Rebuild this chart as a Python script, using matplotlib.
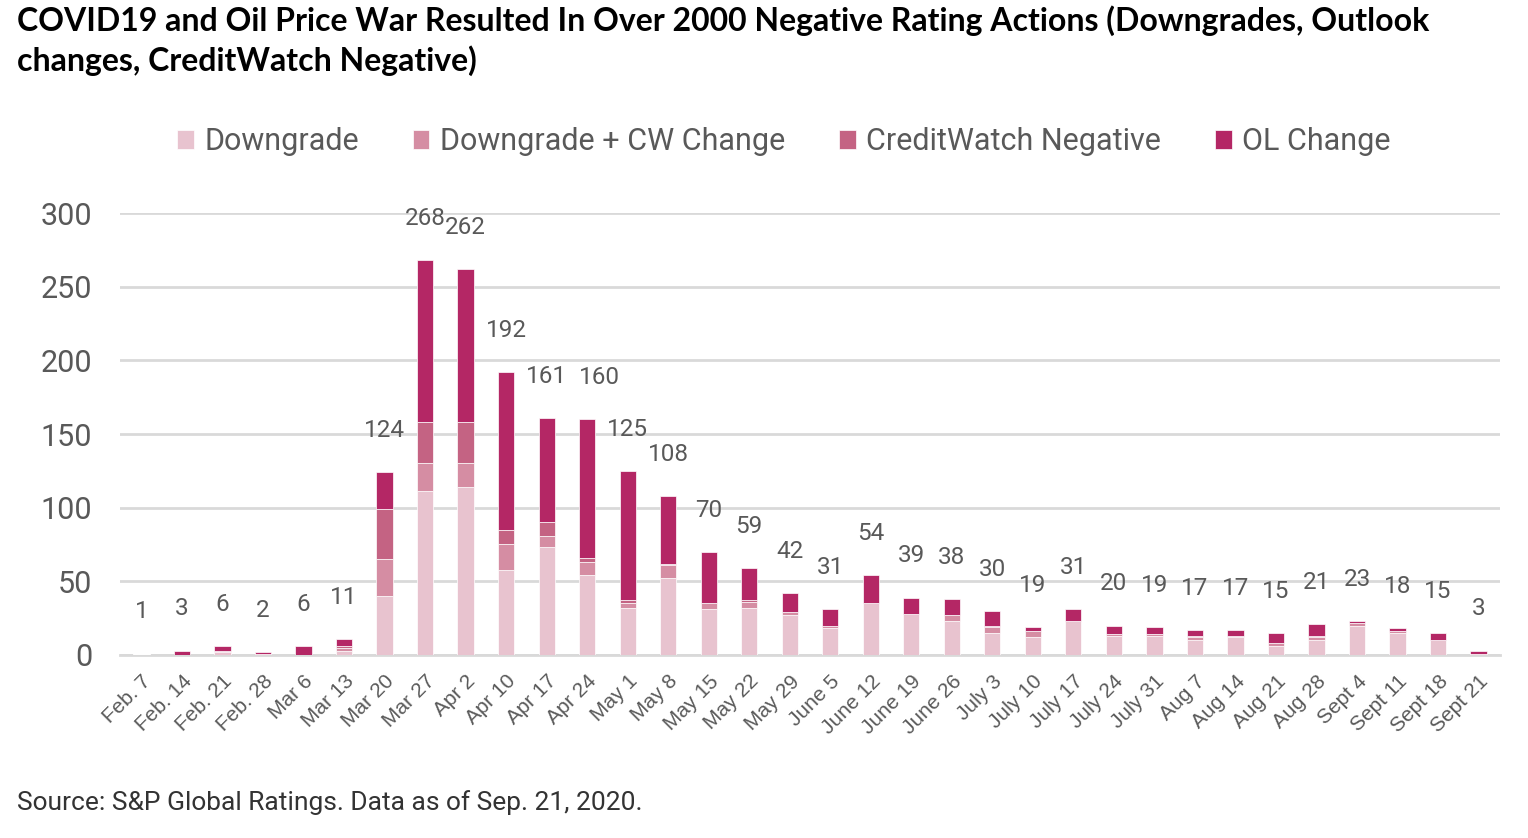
import numpy as np
import matplotlib.pyplot as plt

weeks = ["Feb. 7", "Feb. 14", "Feb. 21", "Feb. 28", "Mar 6", "Mar 13", "Mar 20", "Mar 27",
         "Apr 2", "Apr 10", "Apr 17", "Apr 24", "May 1", "May 8", "May 15", "May 22",
         "May 29", "June 5", "June 12", "June 19", "June 26", "July 3", "July 10", "July 17",
         "July 24", "July 31", "Aug 7", "Aug 14", "Aug 21", "Aug 28", "Sept 4", "Sept 11",
         "Sept 18", "Sept 21"]

downgrade    = [1, 0, 2, 1, 0, 3, 40, 111, 114, 58, 73, 54, 32, 52, 31, 32, 27, 18, 35, 28,
                23, 15, 12, 23, 13, 13, 10, 12, 6, 10, 20, 15, 10, 1]
downgrade_cw = [0, 0, 1, 0, 0, 2, 25, 19, 16, 17, 8, 9, 3, 9, 4, 4, 2, 2, 0, 0,
                4, 4, 4, 0, 1, 1, 2, 1, 2, 2, 2, 1, 0, 0]
cw_negative  = [0, 0, 0, 0, 0, 1, 34, 28, 28, 10, 9, 3, 2, 1, 0, 1, 0, 0, 0, 0,
                0, 1, 0, 0, 0, 0, 1, 0, 0, 1, 0, 0, 0, 0]
ol_change    = [0, 3, 3, 1, 6, 5, 25, 110, 104, 107, 71, 94, 88, 46, 35, 22, 13, 11, 19, 11,
                11, 10, 3, 8, 6, 5, 4, 4, 7, 8, 1, 2, 5, 2]
totals = [1, 3, 6, 2, 6, 11, 124, 268, 262, 192, 161, 160, 125, 108, 70, 59, 42, 31, 54, 39,
          38, 30, 19, 31, 20, 19, 17, 17, 15, 21, 23, 18, 15, 3]

n = len(weeks)
x = np.arange(n)

series = [("Downgrade", downgrade, "#E8C3CF"),
          ("Downgrade + CW Change", downgrade_cw, "#D58DA3"),
          ("CreditWatch Negative", cw_negative, "#C46383"),
          ("OL Change", ol_change, "#B42765")]

plt.rcParams['font.family'] = ['Roboto', 'DejaVu Sans']
fig = plt.figure(figsize=(15.28, 8.38), dpi=100)
ax = fig.add_axes([0.0785, 0.2184, 0.9032, 0.5274])

bottom = np.zeros(n)
for name, vals, col in series:
    ax.bar(x, vals, 0.4, bottom=bottom, color=col, label=name,
           edgecolor='white', linewidth=0.5, zorder=3)
    bottom += np.array(vals)

for i, (xi, t) in enumerate(zip(x, totals)):
    dx = 9 if weeks[i] == "Apr 24" else 0  # label nudged right in the original
    ax.annotate(str(t), (xi, t), xytext=(dx, 30), textcoords='offset points',
                ha='center', va='center', fontsize=17.5, color='#595959')

ax.set_ylim(0, 300)
ax.set_xlim(-0.53, n - 0.47)
ax.set_yticks(range(0, 301, 50))
ax.yaxis.grid(True, color='#D9D9D9', linewidth=2, zorder=0)
ax.tick_params(axis='y', length=0, labelsize=22, labelcolor='#595959', pad=20)
ax.set_xticks(x)
ax.set_xticklabels(weeks, rotation=45, ha='right', rotation_mode='anchor',
                   fontsize=15, color='#595959', family=['Liberation Sans', 'DejaVu Sans'])
ax.tick_params(axis='x', length=0, pad=12)
for s in ['top', 'right', 'left']:
    ax.spines[s].set_visible(False)
ax.spines['bottom'].set_color('#D9D9D9')
ax.spines['bottom'].set_linewidth(2)

fig.legend(loc='center', bbox_to_anchor=(0.513, 0.831), ncol=4, frameon=False,
           fontsize=22, labelcolor='#595959', handlelength=0.55, handleheight=0.55,
           handletextpad=0.35, columnspacing=1.75)

fig.text(0.011, 0.994, "COVID19 and Oil Price War Resulted In Over 2000 Negative Rating Actions (Downgrades, Outlook\nchanges, CreditWatch Negative)",
         ha='left', va='top', fontsize=23, fontweight='bold', color='black',
         family=['Lato', 'DejaVu Sans'], linespacing=1.38)
fig.text(0.011, 0.042, "Source: S&P Global Ratings. Data as of Sep. 21, 2020.",
         ha='left', va='center', fontsize=19, color='#333333')

fig.savefig("out.png", dpi=100)
